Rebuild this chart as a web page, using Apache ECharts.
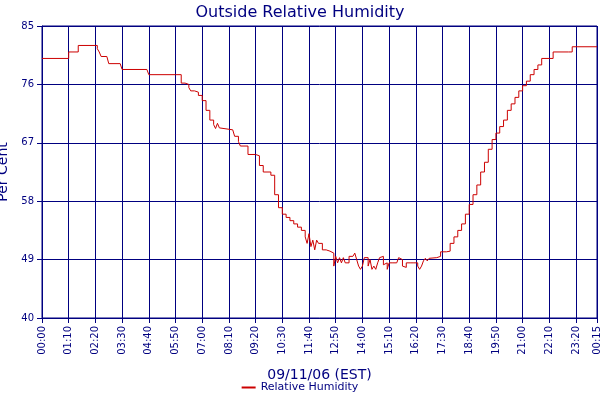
<!DOCTYPE html>
<html><head><meta charset="utf-8">
<script src="https://cdn.jsdelivr.net/npm/echarts@6/dist/echarts.min.js"></script>
<style>html,body{margin:0;padding:0;background:#fff}#c{width:600px;height:400px}</style>
</head><body><div id="c"></div>
<script>
const minutes = [0,70,95,145,150,155,170,175,205,210,275,280,350,365,375,385,390,400,410,420,430,440,450,455,460,465,470,500,505,515,520,540,560,570,580,600,610,620,630,640,650,660,670,680,690,695,700,705,710,715,720,725,735,745,755,765,770,775,780,785,790,795,800,805,815,820,825,830,835,840,845,850,855,860,865,870,875,880,885,890,895,900,905,910,920,930,935,940,945,950,955,965,975,985,990,995,1000,1005,1010,1015,1020,1035,1045,1060,1070,1080,1090,1100,1110,1120,1130,1140,1150,1160,1170,1180,1190,1200,1210,1220,1230,1240,1250,1260,1270,1280,1290,1300,1310,1330,1340,1380,1390,1455];
const humidity = [80,81,82,81.5,81,80.3,80,79.2,79.2,78.3,78.3,77.5,77.5,76.2,76,75.5,75,74.8,74.3,73.5,72,70.5,69.8,69.2,70,69.3,69,69,68,67.2,66.5,65.2,65,63.5,62.5,62,59,57,56,55.5,55,54.5,54,53.5,52.5,51.5,53,51,52,50.5,52,51.5,50.5,50.3,50,48,49.5,48.5,49.3,48.5,49.3,48.5,48.5,49.5,49.5,50,49,48,47.5,48,49.3,49.3,48,49,47.5,48,47.5,48.5,49.3,49.5,48.2,48.5,47.5,48.5,48.5,48.5,49.3,49,48,47.8,48.5,48.5,48.5,48,47.5,48,48.8,49.2,48.8,49.2,49.3,49.5,50.2,50.3,51.5,52.5,53.5,54.5,56,57.5,59,60.5,62.5,64,66,67.5,68.5,69.5,70.5,72,73,74,75,75.8,76.5,77.5,78.3,79,80,80,81,81,81.8,81.8];
const xTicks = [0,70,140,210,280,350,420,490,560,630,700,770,840,910,980,1050,1120,1190,1260,1330,1400,1455];
const yTicks = [40,49,58,67,76,85];
const navy = '#000080';
function fmt(v){const m=((v%1440)+1440)%1440;const h=Math.floor(m/60),mm=m%60;return String(h).padStart(2,'0')+':'+String(mm).padStart(2,'0');}
const chart = echarts.init(document.getElementById('c'));
chart.setOption({
  animation:false,
  textStyle:{fontFamily:'DejaVu Sans'},
  title:{text:'Outside Relative Humidity',left:'center',top:0,textStyle:{color:navy,fontSize:16,fontWeight:'normal',fontFamily:'DejaVu Sans'}},
  grid:{left:42,right:3,top:26,bottom:82,show:true,borderColor:navy,borderWidth:1,outerBoundsMode:'none',containLabel:false},
  legend:{bottom:2,left:'center',itemWidth:14,itemHeight:2,icon:'rect',textStyle:{color:navy,fontSize:11},data:['Relative Humidity']},
  xAxis:{type:'value',min:0,max:1455,interval:70,name:'09/11/06 (EST)',nameLocation:'middle',nameGap:50,nameTextStyle:{color:navy,fontSize:14},
    axisLine:{lineStyle:{color:navy}},axisTick:{show:true,customValues:xTicks,lineStyle:{color:navy}},
    axisLabel:{customValues:xTicks,rotate:90,color:navy,fontSize:10,formatter:fmt},
    splitLine:{show:true,lineStyle:{color:navy,width:1}}},
  yAxis:{type:'value',min:yTicks[0],max:yTicks[yTicks.length-1],interval:9,name:'Per Cent',nameLocation:'middle',nameGap:26,nameTextStyle:{color:navy,fontSize:14},
    axisLine:{show:true,lineStyle:{color:navy}},axisTick:{show:true,lineStyle:{color:navy}},axisLabel:{color:navy,fontSize:10},
    splitLine:{show:true,lineStyle:{color:navy,width:1}}},
  series:[{name:'Relative Humidity',type:'line',step:'end',symbol:'none',lineStyle:{color:'#cc0000',width:1},itemStyle:{color:'#cc0000'},
    data:minutes.map((m,i)=>[m,humidity[i]])}]
});
</script></body></html>
